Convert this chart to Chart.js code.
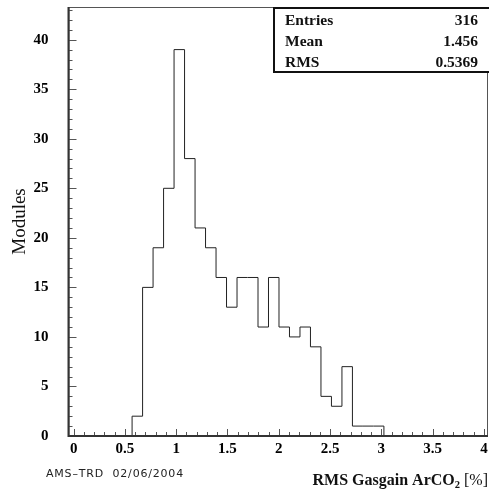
<!DOCTYPE html>
<html>
<head>
<meta charset="utf-8">
<script src="https://cdn.jsdelivr.net/npm/chart.js@4.4.1/dist/chart.umd.min.js"></script>
<style>
  html, body { margin: 0; padding: 0; background: #fff; }
  canvas { display: block; }
</style>
</head>
<body>
<canvas id="histo" width="489" height="495"></canvas>
<script>
// histogram: 24 bins starting at 0.57, width ~0.1023
const binLow = 0.57;
const binWidth = 0.1023;
const binCounts = [2, 15, 19, 25, 39, 28, 21, 19, 16, 13, 16, 16, 11, 16, 11, 10, 11, 9, 4, 3, 7, 1, 1, 1];

const xTickLabels = [0, 0.5, 1, 1.5, 2, 2.5, 3, 3.5, 4];
const yTickLabels = [0, 5, 10, 15, 20, 25, 30, 35, 40];

const statNames = ["Entries", "Mean", "RMS"];
const statValues = ["316", "1.456", "0.5369"];

const serif = "'Liberation Serif', 'Times New Roman', serif";

// outline points for the stepped line (each count held from its lower edge)
const points = [{ x: binLow, y: 0 }];
binCounts.forEach((c, i) => points.push({ x: binLow + i * binWidth, y: c }));
points.push({ x: binLow + binCounts.length * binWidth, y: 0 });

const rootDecor = {
    id: "rootDecor",
    afterDatasetsDraw(chart) {
        const { ctx, chartArea: a, scales: { x, y } } = chart;
        ctx.save();

        // frame
        ctx.strokeStyle = "#555";
        ctx.lineWidth = 1;
        ctx.strokeRect(a.left + 0.5, a.top + 0.5, a.right - a.left - 1, a.bottom - a.top);

        // minor / major ticks, drawn inward like ROOT
        ctx.strokeStyle = "#555";
        ctx.beginPath();
        for (let i = 0; i <= 40; i++) {
            const px = Math.round(x.getPixelForValue(i / 10)) + 0.5;
            const len = i % 5 === 0 ? 7 : 4;
            ctx.moveTo(px, a.bottom);
            ctx.lineTo(px, a.bottom - len);
        }
        for (let v = 0; v <= 43; v++) {
            const py = Math.round(y.getPixelForValue(v)) + 0.5;
            const len = v % 5 === 0 ? 8 : 4;
            ctx.moveTo(a.left, py);
            ctx.lineTo(a.left + len, py);
        }
        ctx.stroke();

        // axis lines
        ctx.strokeStyle = "#333";
        ctx.lineWidth = 2;
        ctx.beginPath();
        ctx.moveTo(a.left, a.top);
        ctx.lineTo(a.left, a.bottom);
        ctx.lineTo(a.right, a.bottom);
        ctx.stroke();

        // stats box
        const bx = 273, by = 7, bw = chart.width - bx, bh = 65;
        ctx.fillStyle = "#fff";
        ctx.fillRect(bx, by, bw, bh);
        ctx.strokeStyle = "#111";
        ctx.lineWidth = 2;
        ctx.strokeRect(bx + 1, by + 1, bw, bh - 1);
        ctx.fillStyle = "#111";
        ctx.font = "bold 15.5px " + serif;
        ctx.textBaseline = "alphabetic";
        statNames.forEach((n, i) => {
            const base = 25 + i * 21;
            ctx.textAlign = "left";
            ctx.fillText(n, 285, base);
            ctx.textAlign = "right";
            ctx.fillText(statValues[i], 478, base);
        });

        // x axis title with subscript
        const titleMain = "RMS Gasgain ArCO";
        const titleSub = "2";
        const titleTail = " [%]";
        const tb = 485;
        ctx.textAlign = "left";
        ctx.font = "bold 16px " + serif;
        const wMain = ctx.measureText(titleMain).width;
        ctx.font = "bold 10.5px " + serif;
        const wSub = ctx.measureText(titleSub).width;
        ctx.font = "16px " + serif;
        const wTail = ctx.measureText(titleTail).width;
        let tx = 488 - wMain - wSub - wTail;
        ctx.font = "bold 16px " + serif;
        ctx.fillText(titleMain, tx, tb);
        tx += wMain;
        ctx.font = "bold 10.5px " + serif;
        ctx.fillText(titleSub, tx, tb + 3);
        tx += wSub;
        ctx.font = "16px " + serif;
        ctx.fillText(titleTail, tx, tb);

        // date stamp
        ctx.font = "11px 'DejaVu Sans', sans-serif";
        ctx.letterSpacing = "0.8px";
        ctx.fillStyle = "#222";
        ctx.fillText("AMS\u2013TRD  02/06/2004", 46, 477);

        ctx.restore();
    }
};

const noPad = (s) => {
    s.paddingTop = 0;
    s.paddingBottom = 0;
    s.paddingLeft = 0;
    s.paddingRight = 0;
};

const ctx = document.getElementById("histo").getContext("2d");

new Chart(ctx, {
    type: "line",
    data: {
        datasets: [{
            data: points,
            stepped: "before",
            borderColor: "#222",
            borderWidth: 1,
            pointRadius: 0,
            fill: false
        }]
    },
    options: {
        responsive: false,
        animation: false,
        events: [],
        layout: { padding: { top: 7, right: 1, left: 0, bottom: 0 } },
        plugins: {
            legend: { display: false },
            tooltip: { enabled: false }
        },
        scales: {
            x: {
                type: "linear",
                min: -0.05,
                max: 4.04,
                afterBuildTicks: (s) => { s.ticks = xTickLabels.map(v => ({ value: v })); },
                afterFit: (s) => { s.height = 59; noPad(s); },
                grid: { display: false, drawTicks: false },
                border: { display: false },
                ticks: {
                    color: "#000",
                    padding: 4,
                    maxRotation: 0,
                    font: { family: serif, size: 15, weight: "bold" },
                    callback: (v) => String(v)
                }
            },
            y: {
                min: 0,
                max: 43.3,
                afterBuildTicks: (s) => { s.ticks = yTickLabels.map(v => ({ value: v })); },
                afterFit: (s) => { s.width = 68.5; noPad(s); },
                grid: { display: false, drawTicks: false },
                border: { display: false },
                ticks: {
                    color: "#000",
                    padding: 20,
                    font: { family: serif, size: 15, weight: "bold" }
                },
                title: {
                    display: true,
                    text: "Modules",
                    color: "#111",
                    padding: { top: 9, bottom: 0 },
                    font: { family: serif, size: 19 }
                }
            }
        }
    },
    plugins: [rootDecor]
});
</script>
</body>
</html>
